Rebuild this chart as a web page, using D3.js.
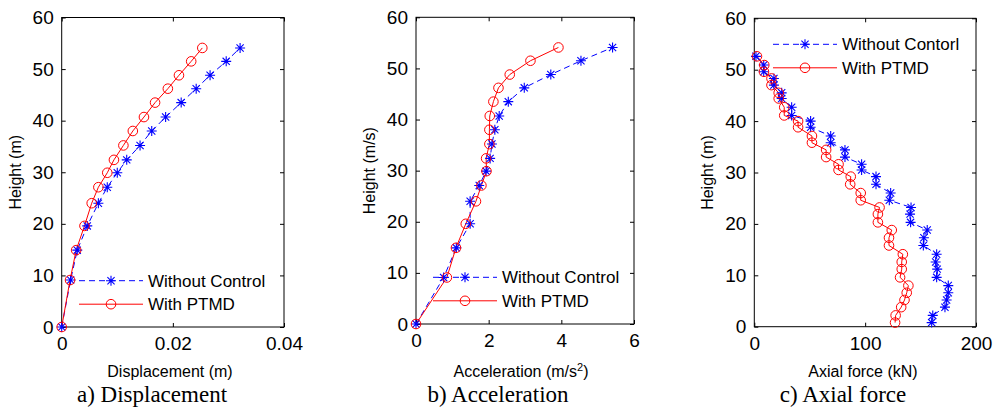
<!DOCTYPE html>
<html><head><meta charset="utf-8">
<script src="https://cdn.jsdelivr.net/npm/d3@7"></script>
<style>body{margin:0;background:#fff}svg{display:block}</style>
</head><body><svg id="chart" width="1004" height="411"></svg>
<script>
// ---------- data ----------
const heightsAB = [0, 9.1, 14.9, 19.6, 24.0, 27.1, 29.9, 32.4, 35.2, 38.0, 40.7, 43.5, 46.2, 48.8, 51.5, 54.1];
const dispWithout = [0, 0.0016, 0.0028, 0.0046, 0.0066, 0.0082, 0.0100, 0.0117, 0.0141, 0.0162, 0.0187, 0.0215, 0.0242, 0.0267, 0.0296, 0.0321];
const dispPTMD    = [0, 0.0015, 0.0026, 0.0041, 0.0054, 0.0066, 0.0082, 0.0094, 0.0111, 0.0128, 0.0148, 0.0168, 0.0191, 0.0211, 0.0233, 0.0253];
const accWithout = [0, 0.76, 1.11, 1.49, 1.49, 1.74, 1.93, 2.04, 2.09, 2.17, 2.29, 2.54, 2.98, 3.71, 4.54, 5.41];
const accPTMD    = [0, 0.85, 1.10, 1.37, 1.65, 1.80, 1.94, 1.93, 2.02, 2.02, 2.03, 2.13, 2.27, 2.58, 3.15, 3.92];
const heightsC = [52.6, 50.9, 49.6, 48.3, 47.0, 45.5, 44.4, 42.7, 41.1, 40.0, 38.8, 37.1, 35.8, 34.4, 33.0, 31.6, 30.5, 29.2, 27.7, 26.0, 24.6, 23.2, 21.9, 20.3, 18.8, 17.3, 15.8, 14.1, 12.6, 11.2, 9.6, 8.0, 6.6, 5.2, 3.8, 2.2, 0.8];
const axialWithout = [1.5, 8.5, 8.5, 17.7, 17.7, 24.7, 24.7, 33.7, 33.7, 50.8, 50.8, 68.9, 68.9, 81.8, 81.8, 96.8, 96.8, 109.8, 109.8, 123, 121.8, 141.4, 140.5, 141, 156, 153, 152.5, 164.5, 163.6, 165, 164.5, 175, 175, 173.5, 172, 161, 160];
const axialPTMD    = [2.4, 9, 8.7, 15.5, 15.5, 22, 22, 27, 27, 39.5, 39.5, 52, 52, 64.8, 64.8, 76, 76, 87, 86.5, 96, 96, 113, 111.5, 111.5, 124, 121.5, 121.5, 134, 133, 133, 131.5, 139, 137.5, 135.5, 132.5, 127.5, 127];
const yTicks = [0, 10, 20, 30, 40, 50, 60];
const xTicksA = [0, 0.02, 0.04];
const xTicksB = [0, 2, 4, 6];
const xTicksC = [0, 100, 200];
const legendA = ["Without Control", "With PTMD"];
const legendC = ["Without Contorl", "With PTMD"];

// ---------- drawing ----------
const svg = d3.select("#chart");
const BLUE = "#0000ff", RED = "#ff0000";
const SANS = "'Liberation Sans', Arial, sans-serif";
const SERIF = "'Liberation Serif', 'Times New Roman', serif";

const panels = [
  {x0: 61.7, x1: 284, y0: 327, y1: 17.5, xDom: [0, 0.04], xTicks: xTicksA, fmt: d => d === 0 ? "0" : d3.format(".2f")(d),
   ylab: "Height (m)", ylabX: 15, xlab: "Displacement (m)", xlabX: 170, title: "a) Displacement", titleX: 152,
   h1: heightsAB, s1: dispWithout, h2: heightsAB, s2: dispPTMD, leg: legendA, legX: 79, legY: 280.7},
  {x0: 416, x1: 634, y0: 324, y1: 17.3, xDom: [0, 6], xTicks: xTicksB, fmt: d3.format("d"),
   ylab: "Height (m/s)", ylabX: 369, xlab: "Acceleration (m/s", sup: true, xlabX: 521, title: "b) Acceleration", titleX: 498,
   h1: heightsAB, s1: accWithout, h2: heightsAB, s2: accPTMD, leg: legendA, legX: 433, legY: 277.3},
  {x0: 754.3, x1: 976, y0: 326.7, y1: 18.3, xDom: [0, 200], xTicks: xTicksC, fmt: d3.format("d"),
   ylab: "Height (m)", ylabX: 707, xlab: "Axial force (kN)", xlabX: 863, title: "c) Axial force", titleX: 843,
   h1: heightsC, s1: axialWithout, h2: heightsC, s2: axialPTMD, leg: legendC, legX: 773, legY: 44.3}
];

function star(g, x, y, color) {
  const r = 5, d = 3.6;
  g.append("path").attr("d", `M${x-r},${y}H${x+r}M${x},${y-r}V${y+r}M${x-d},${y-d}L${x+d},${y+d}M${x-d},${y+d}L${x+d},${y-d}`)
    .attr("stroke", color).attr("stroke-width", 1.1).attr("fill", "none");
}
function circ(g, x, y, color) {
  g.append("circle").attr("cx", x).attr("cy", y).attr("r", 4.8)
    .attr("stroke", color).attr("stroke-width", 1).attr("fill", "none");
}

panels.forEach(p => {
  const x = d3.scaleLinear().domain(p.xDom).range([p.x0, p.x1]);
  const y = d3.scaleLinear().domain([0, 60]).range([p.y0, p.y1]);
  const g = svg.append("g");
  const w = p.x1 - p.x0, h = p.y0 - p.y1;

  // axes (MATLAB style: inward ticks, box)
  const axB = g.append("g").attr("transform", `translate(0,${p.y0})`)
    .call(d3.axisBottom(x).tickValues(p.xTicks).tickFormat(p.fmt).tickSize(-4).tickPadding(10));
  const axT = g.append("g").attr("transform", `translate(0,${p.y1})`)
    .call(d3.axisTop(x).tickValues(p.xTicks).tickFormat("").tickSize(-4));
  const axL = g.append("g").attr("transform", `translate(${p.x0},0)`)
    .call(d3.axisLeft(y).tickValues(yTicks).tickSize(-4).tickPadding(8));
  const axR = g.append("g").attr("transform", `translate(${p.x1},0)`)
    .call(d3.axisRight(y).tickValues(yTicks).tickFormat("").tickSize(-4));
  [axB, axT, axL, axR].forEach(a => {
    a.selectAll(".domain").attr("stroke", "#000").attr("stroke-width", 1);
    a.selectAll(".tick line").attr("stroke", "#000");
    a.selectAll("text").attr("font-family", SANS).attr("font-size", 19).attr("fill", "#000");
  });
  axB.selectAll(".domain").remove(); axT.selectAll(".domain").remove();
  axL.selectAll(".domain").remove(); axR.selectAll(".domain").remove();
  g.append("rect").attr("x", p.x0).attr("y", p.y1).attr("width", w).attr("height", h)
    .attr("fill", "none").attr("stroke", "#000").attr("stroke-width", 1);

  // series
  const l1 = d3.line().x((d, i) => x(p.s1[i])).y(d => y(d));
  const l2 = d3.line().x((d, i) => x(p.s2[i])).y(d => y(d));
  g.append("path").attr("d", l1(p.h1)).attr("fill", "none").attr("stroke", BLUE).attr("stroke-width", 1).attr("stroke-dasharray", "6,4");
  g.append("path").attr("d", l2(p.h2)).attr("fill", "none").attr("stroke", RED).attr("stroke-width", 1);
  p.h1.forEach((hv, i) => star(g, x(p.s1[i]), y(hv), BLUE));
  p.h2.forEach((hv, i) => circ(g, x(p.s2[i]), y(hv), RED));

  // legend
  const lg = g.append("g");
  const lw = 64, ly2 = p.legY + 23.5;
  lg.append("line").attr("x1", p.legX).attr("x2", p.legX + lw).attr("y1", p.legY).attr("y2", p.legY)
    .attr("stroke", BLUE).attr("stroke-dasharray", "6,4");
  star(lg, p.legX + lw / 2, p.legY, BLUE);
  lg.append("line").attr("x1", p.legX).attr("x2", p.legX + lw).attr("y1", ly2).attr("y2", ly2).attr("stroke", RED);
  circ(lg, p.legX + lw / 2, ly2, RED);
  [p.leg[0], p.leg[1]].forEach((t, i) => {
    lg.append("text").attr("x", p.legX + lw + 5).attr("y", (i ? ly2 : p.legY) + 6)
      .attr("font-family", SANS).attr("font-size", 17).attr("fill", "#000").text(t);
  });

  // labels
  g.append("text").attr("transform", `translate(${p.ylabX + 6},${(p.y0 + p.y1) / 2}) rotate(-90)`)
    .attr("text-anchor", "middle").attr("font-family", SANS).attr("font-size", 16).attr("fill", "#000").text(p.ylab);
  const xl = g.append("text").attr("x", p.xlabX).attr("y", 377).attr("text-anchor", "middle")
    .attr("font-family", SANS).attr("font-size", 16).attr("fill", "#000").text(p.xlab);
  if (p.sup) {
    xl.append("tspan").attr("baseline-shift", "super").attr("font-size", 11).text("2");
    xl.append("tspan").text(")");
  }
  g.append("text").attr("x", p.titleX).attr("y", 402).attr("text-anchor", "middle")
    .attr("font-family", SERIF).attr("font-size", 23).attr("fill", "#000").text(p.title);
});
</script></body></html>
